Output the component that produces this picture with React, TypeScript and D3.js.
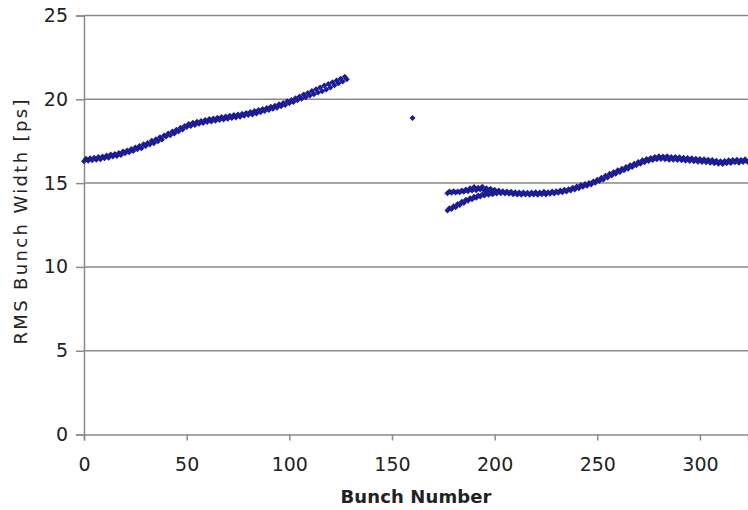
import React, { useEffect, useRef } from 'react';
import * as d3 from 'd3';

// bunches 0..128, first train
const trainA: number[] = [
  16.30, 16.45, 16.33, 16.48, 16.36, 16.52, 16.40, 16.55, 16.42, 16.58,
  16.48, 16.64, 16.52, 16.70, 16.58, 16.74, 16.62, 16.80, 16.68, 16.88,
  16.78, 16.95, 16.84, 17.04, 16.92, 17.12, 17.02, 17.22, 17.08, 17.32,
  17.22, 17.40, 17.30, 17.52, 17.38, 17.62, 17.50, 17.74, 17.60, 17.84,
  17.78, 17.96, 17.86, 18.08, 17.96, 18.18, 18.08, 18.30, 18.20, 18.40,
  18.34, 18.52, 18.40, 18.60, 18.46, 18.66, 18.54, 18.70, 18.58, 18.76,
  18.64, 18.82, 18.68, 18.86, 18.72, 18.90, 18.76, 18.94, 18.80, 18.98,
  18.84, 19.02, 18.88, 19.06, 18.92, 19.10, 18.96, 19.14, 19.02, 19.18,
  19.06, 19.24, 19.10, 19.30, 19.16, 19.36, 19.22, 19.42, 19.30, 19.48,
  19.36, 19.56, 19.44, 19.62, 19.50, 19.70, 19.58, 19.78, 19.66, 19.88,
  19.76, 19.96, 19.84, 20.06, 19.94, 20.16, 20.04, 20.28, 20.12, 20.38,
  20.22, 20.50, 20.30, 20.60, 20.40, 20.70, 20.48, 20.82, 20.58, 20.92,
  20.70, 21.02, 20.84, 21.12, 20.96, 21.22, 21.06, 21.34, 21.20,
];
const trainAStart = 0;

// lone bunch
const loneBunch = 160;
const loneValue = 18.88;

// bunches 177..323, second train
const trainB: number[] = [
  14.40, 14.50, 14.42, 14.52, 14.44, 14.50, 14.46, 14.56, 14.48, 14.62,
  14.52, 14.70, 14.56, 14.76, 14.58, 14.72, 14.62, 14.78, 14.56, 14.70,
  14.52, 14.66, 14.48, 14.60, 14.44, 14.56, 14.40, 14.52, 14.38, 14.50,
  14.36, 14.48, 14.34, 14.46, 14.32, 14.44, 14.30, 14.44, 14.32, 14.42,
  14.30, 14.44, 14.32, 14.46, 14.30, 14.44, 14.34, 14.48, 14.32, 14.46,
  14.36, 14.50, 14.38, 14.52, 14.42, 14.56, 14.46, 14.60, 14.50, 14.64,
  14.56, 14.72, 14.62, 14.80, 14.70, 14.88, 14.78, 14.94, 14.84, 15.00,
  14.92, 15.10, 15.02, 15.20, 15.12, 15.32, 15.22, 15.44, 15.34, 15.56,
  15.46, 15.66, 15.56, 15.76, 15.66, 15.86, 15.76, 15.96, 15.86, 16.06,
  15.96, 16.16, 16.06, 16.26, 16.16, 16.36, 16.24, 16.44, 16.32, 16.50,
  16.38, 16.56, 16.42, 16.60, 16.44, 16.58, 16.42, 16.60, 16.40, 16.56,
  16.40, 16.56, 16.38, 16.54, 16.36, 16.52, 16.34, 16.50, 16.32, 16.48,
  16.30, 16.46, 16.28, 16.44, 16.26, 16.42, 16.24, 16.40, 16.22, 16.38,
  16.18, 16.34, 16.16, 16.30, 16.14, 16.32, 16.18, 16.36, 16.20, 16.38,
  16.24, 16.40, 16.22, 16.38, 16.26, 16.42, 16.28,
];
const trainBStart = 177;

// lower branch at the head of the second train, bunches 177..201
const trainBLow: number[] = [
  13.36, 13.50, 13.46, 13.62, 13.56, 13.76, 13.70, 13.88, 13.82, 14.00,
  13.94, 14.10, 14.04, 14.18, 14.12, 14.26, 14.20, 14.32, 14.26, 14.38,
  14.30, 14.40, 14.34, 14.44, 14.38,
];
const trainBLowStart = 177;

const xTicks = [0, 50, 100, 150, 200, 250, 300];
const yTicks = [0, 5, 10, 15, 20, 25];

const App = () => {
  const ref = useRef<SVGSVGElement>(null);

  useEffect(() => {
    if (!ref.current) return;
    const svg = d3.select(ref.current);
    svg.selectAll('*').remove();

    const x = d3.scaleLinear().domain([0, 323.4]).range([84, 748]);
    const y = d3.scaleLinear().domain([0, 25]).range([434.5, 15.5]);
    const grey = '#8a8a8a';
    const font = '"DejaVu Sans", Verdana, sans-serif';

    // gridlines
    svg.append('g')
      .selectAll('line')
      .data(yTicks.filter((d) => d > 0))
      .enter().append('line')
      .attr('x1', x(0)).attr('x2', 748)
      .attr('y1', (d) => y(d)).attr('y2', (d) => y(d))
      .attr('stroke', grey).attr('stroke-width', 1.5);

    // y axis
    const yAxis = svg.append('g')
      .attr('transform', `translate(${x(0)},0)`)
      .call(d3.axisLeft(y).tickValues(yTicks).tickSize(8).tickPadding(8));
    yAxis.select('.domain').attr('stroke', grey).attr('stroke-width', 1.5);
    yAxis.selectAll('.tick line').attr('stroke', grey).attr('stroke-width', 1.5);
    yAxis.selectAll('.tick text')
      .attr('fill', '#222').style('font-size', '19px').style('font-family', font);

    // x axis
    const xAxis = svg.append('g')
      .attr('transform', `translate(0,${y(0)})`)
      .call(d3.axisBottom(x).tickValues(xTicks).tickSize(6).tickPadding(17));
    xAxis.select('.domain').attr('stroke', grey).attr('stroke-width', 1.5);
    xAxis.selectAll('.tick line').attr('stroke', grey).attr('stroke-width', 1.5);
    xAxis.selectAll('.tick text')
      .attr('fill', '#222').style('font-size', '19px').style('font-family', font);

    // points
    const pts: [number, number][] = [
      ...trainA.map((v, i) => [trainAStart + i, v] as [number, number]),
      [loneBunch, loneValue],
      ...trainB.map((v, i) => [trainBStart + i, v] as [number, number]),
      ...trainBLow.map((v, i) => [trainBLowStart + i, v] as [number, number]),
    ];
    const marker = d3.symbol().type(d3.symbolSquare).size(18);
    svg.append('g')
      .selectAll('path')
      .data(pts)
      .enter().append('path')
      .attr('d', marker)
      .attr('transform', (d) => `translate(${x(d[0])},${y(d[1])}) rotate(45)`)
      .attr('fill', '#1c1c94');

    // labels
    svg.append('text')
      .attr('transform', 'translate(27,222) rotate(-90)')
      .attr('text-anchor', 'middle')
      .attr('textLength', 245).attr('lengthAdjust', 'spacing')
      .style('font-size', '18px').style('font-family', font).attr('fill', '#222')
      .text('RMS Bunch Width [ps]');

    svg.append('text')
      .attr('x', 416).attr('y', 503)
      .attr('text-anchor', 'middle')
      .attr('textLength', 151).attr('lengthAdjust', 'spacing')
      .style('font-size', '18px').style('font-weight', 'bold').style('font-family', font)
      .attr('fill', '#222')
      .text('Bunch Number');
  }, []);

  return (
    <svg
      ref={ref}
      width={748}
      height={510}
      style={{ position: 'absolute', left: 0, top: 0, background: '#fff' }}
    />
  );
};

export default App;
